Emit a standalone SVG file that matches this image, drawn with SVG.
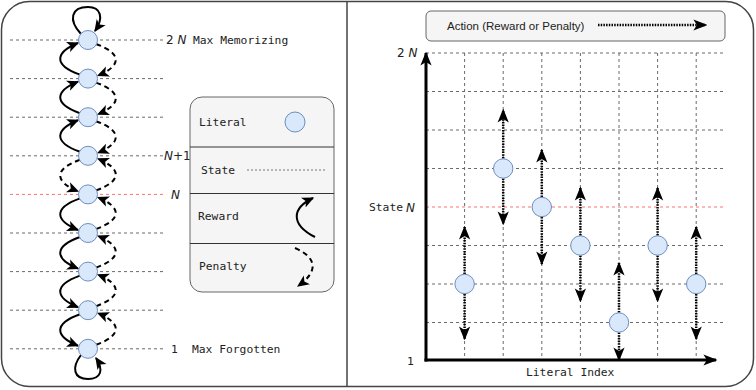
<svg xmlns="http://www.w3.org/2000/svg" width="756" height="390" viewBox="0 0 756 390">
<defs>
<marker id="ah" viewBox="0 0 10 10" refX="9" refY="5" markerWidth="12" markerHeight="12" markerUnits="userSpaceOnUse" orient="auto"><path d="M0,0.5 L10,5 L0,9.5 L2.5,5 z" fill="#000" stroke="none"/></marker>
<marker id="ab" viewBox="0 0 10 10" refX="9" refY="5" markerWidth="14" markerHeight="14" markerUnits="userSpaceOnUse" orient="auto"><path d="M0,1 L10,5 L0,9 L2.5,5 z" fill="#000" stroke="none"/></marker>
<style>
.frame{fill:#fff;stroke:#444;stroke-width:1.5}
.st{stroke:#6a6a6a;stroke-width:1;stroke-dasharray:3 3;fill:none}
.red{stroke:#ff7070;stroke-width:1;stroke-dasharray:3 3;fill:none}
.lit{fill:#dae8fc;stroke:#6c8ebf;stroke-width:1}
.rw{fill:none;stroke:#000;stroke-width:2;marker-end:url(#ah)}
.pn{fill:none;stroke:#000;stroke-width:2;stroke-dasharray:5 4;marker-end:url(#ah)}
.act{fill:none;stroke:#000;stroke-width:2.5;stroke-dasharray:1.5 1.2;marker-end:url(#ab)}
.mono{font-family:"DejaVu Sans Mono",monospace;font-size:11.3px;fill:#222}
.it{font-family:"DejaVu Sans",sans-serif;font-style:italic;font-size:12px;fill:#222}
.sans{font-family:"Liberation Sans",Arial,sans-serif;font-size:11.5px;fill:#222}
.box{fill:#f5f5f5;stroke:#666;stroke-width:1}
.div{stroke:#333;stroke-width:1}
.axis{stroke:#000;stroke-width:3;fill:none;marker-end:url(#ab)}
</style>
</defs>
<rect class="frame" x="1.5" y="1.5" width="752" height="385" rx="28"/>
<line x1="347" y1="1.5" x2="347" y2="386.5" stroke="#444" stroke-width="1.5"/>

<g id="left-states">
<line class="st" x1="10" y1="40" x2="165" y2="40"/>
<line class="st" x1="10" y1="78.6" x2="165" y2="78.6"/>
<line class="st" x1="10" y1="117.2" x2="165" y2="117.2"/>
<line class="st" x1="10" y1="155.8" x2="165" y2="155.8"/>
<line class="red" x1="10" y1="194.4" x2="165" y2="194.4"/>
<line class="st" x1="10" y1="233" x2="165" y2="233"/>
<line class="st" x1="10" y1="271.6" x2="165" y2="271.6"/>
<line class="st" x1="10" y1="310.2" x2="165" y2="310.2"/>
<line class="st" x1="10" y1="348.8" x2="165" y2="348.8"/>
</g>

<g id="connectors">
<path class="rw" d="M81 34 C68 20,71 7,88 7 C101 7,104 18,95 31"/>
<path class="rw" d="M81 355 C71 368,74 379,88 379 C101 379,104 370,96 358"/>
<path class="rw" d="M80 74.6 C52 64.6,56 52,78 43"/>
<path class="rw" d="M80 113.2 C52 103.2,56 90.6,78 81.6"/>
<path class="rw" d="M80 151.8 C52 141.8,56 129.2,78 120.2"/>
<path class="pn" d="M80 159.8 C52 169.8,56 182.4,78 191.4"/>
<path class="rw" d="M80 198.4 C52 208.4,56 221,78 230"/>
<path class="rw" d="M80 237 C52 247,56 259.6,78 268.6"/>
<path class="rw" d="M80 275.6 C52 285.6,56 298.2,78 307.2"/>
<path class="rw" d="M80 314.2 C52 324.2,56 336.8,78 345.8"/>
<path class="pn" d="M96 44 C124 54,120 66.6,98 75.6"/>
<path class="pn" d="M96 82.6 C124 92.6,120 105.2,98 114.2"/>
<path class="pn" d="M96 121.2 C124 131.2,120 143.8,98 152.8"/>
<path class="pn" d="M96 190.4 C124 180.4,120 167.8,98 158.8"/>
<path class="pn" d="M96 229 C124 219,120 206.4,98 197.4"/>
<path class="pn" d="M96 267.6 C124 257.6,120 245,98 236"/>
<path class="pn" d="M96 306.2 C124 296.2,120 283.6,98 274.6"/>
<path class="pn" d="M96 344.8 C124 334.8,120 322.2,98 313.2"/>
</g>

<g id="left-nodes">
<circle class="lit" cx="88" cy="40" r="9.5"/>
<circle class="lit" cx="88" cy="78.6" r="9.5"/>
<circle class="lit" cx="88" cy="117.2" r="9.5"/>
<circle class="lit" cx="88" cy="155.8" r="9.5"/>
<circle class="lit" cx="88" cy="194.4" r="9.5"/>
<circle class="lit" cx="88" cy="233" r="9.5"/>
<circle class="lit" cx="88" cy="271.6" r="9.5"/>
<circle class="lit" cx="88" cy="310.2" r="9.5"/>
<circle class="lit" cx="88" cy="348.8" r="9.5"/>
</g>

<g id="left-labels">
<text class="it" x="166" y="44"><tspan font-style="normal">2</tspan> N</text>
<text class="mono" x="193" y="44">Max Memorizing</text>
<text class="it" x="164" y="160">N<tspan font-style="normal">+1</tspan></text>
<text class="it" x="171" y="199">N</text>
<text class="mono" x="171" y="353">1</text>
<text class="mono" x="192" y="353">Max Forgotten</text>
</g>

<g id="legend">
<rect class="box" x="190" y="97" width="144" height="195" rx="12"/>
<line class="div" x1="190" y1="147" x2="334" y2="147"/>
<line class="div" x1="190" y1="193.5" x2="334" y2="193.5"/>
<line class="div" x1="190" y1="243.5" x2="334" y2="243.5"/>
<text class="mono" x="199" y="126">Literal</text>
<circle class="lit" cx="295" cy="122" r="10"/>
<text class="mono" x="201" y="174">State</text>
<line x1="247" y1="170" x2="326" y2="170" stroke="#777" stroke-width="1" stroke-dasharray="2 2"/>
<text class="mono" x="198" y="220">Reward</text>
<path class="rw" d="M315 237 C290 224,292 208,313 198"/>
<text class="mono" x="199" y="270">Penalty</text>
<path class="pn" d="M295 248 C318 258,318 272,298 286"/>
</g>

<g id="action-legend">
<rect class="box" x="426" y="11" width="299" height="30" rx="5"/>
<text class="sans" x="447" y="29.5">Action (Reward or Penalty)</text>
<line class="act" x1="598" y1="25" x2="706" y2="25"/>
</g>

<g id="grid">
<line class="st" x1="426" y1="53" x2="725" y2="53"/>
<line class="st" x1="426" y1="91.5" x2="725" y2="91.5"/>
<line class="st" x1="426" y1="130" x2="725" y2="130"/>
<line class="st" x1="426" y1="168.5" x2="725" y2="168.5"/>
<line class="red" x1="426" y1="207" x2="725" y2="207"/>
<line class="st" x1="426" y1="245.5" x2="725" y2="245.5"/>
<line class="st" x1="426" y1="284" x2="725" y2="284"/>
<line class="st" x1="426" y1="322.5" x2="725" y2="322.5"/>
<line class="st" x1="464.6" y1="53" x2="464.6" y2="360"/>
<line class="st" x1="503.2" y1="53" x2="503.2" y2="360"/>
<line class="st" x1="541.8" y1="53" x2="541.8" y2="360"/>
<line class="st" x1="580.4" y1="53" x2="580.4" y2="360"/>
<line class="st" x1="619" y1="53" x2="619" y2="360"/>
<line class="st" x1="657.6" y1="53" x2="657.6" y2="360"/>
<line class="st" x1="696.2" y1="53" x2="696.2" y2="360"/>
</g>

<g id="axes">
<path class="axis" d="M426 361.5 L426 53"/>
<path class="axis" d="M424.5 360 L716 360"/>
<text class="it" x="397" y="57" font-size="11"><tspan font-style="normal">2</tspan> N</text>
<text class="mono" x="369" y="211">State</text>
<text class="it" x="406" y="212">N</text>
<text class="mono" x="407" y="365" fill="#444">1</text>
<text class="mono" x="526" y="376">Literal Index</text>
</g>

<g id="actions">
<line class="act" x1="464.6" y1="274" x2="464.6" y2="227"/>
<line class="act" x1="464.6" y1="294" x2="464.6" y2="339"/>
<line class="act" x1="503.2" y1="158.5" x2="503.2" y2="110"/>
<line class="act" x1="503.2" y1="178.5" x2="503.2" y2="224"/>
<line class="act" x1="541.8" y1="197" x2="541.8" y2="150"/>
<line class="act" x1="541.8" y1="217" x2="541.8" y2="264"/>
<line class="act" x1="580.4" y1="235.5" x2="580.4" y2="188"/>
<line class="act" x1="580.4" y1="255.5" x2="580.4" y2="301"/>
<line class="act" x1="619" y1="312.5" x2="619" y2="263"/>
<line class="act" x1="619" y1="332.5" x2="619" y2="360"/>
<line class="act" x1="657.6" y1="235.5" x2="657.6" y2="188"/>
<line class="act" x1="657.6" y1="255.5" x2="657.6" y2="301"/>
<line class="act" x1="696.2" y1="274" x2="696.2" y2="227"/>
<line class="act" x1="696.2" y1="294" x2="696.2" y2="339"/>
</g>

<g id="right-nodes">
<circle class="lit" cx="464.6" cy="284" r="9.7"/>
<circle class="lit" cx="503.2" cy="168.5" r="9.7"/>
<circle class="lit" cx="541.8" cy="207" r="9.7"/>
<circle class="lit" cx="580.4" cy="245.5" r="9.7"/>
<circle class="lit" cx="619" cy="322.5" r="9.7"/>
<circle class="lit" cx="657.6" cy="245.5" r="9.7"/>
<circle class="lit" cx="696.2" cy="284" r="9.7"/>
</g>
</svg>
